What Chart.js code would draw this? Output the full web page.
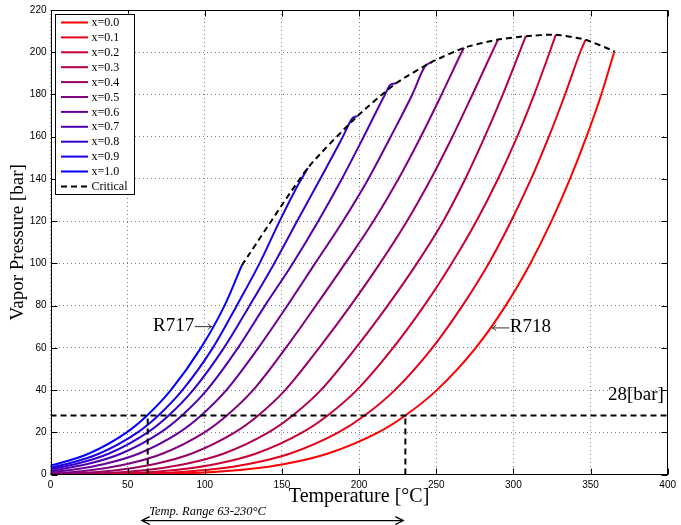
<!DOCTYPE html>
<html lang="en">
<head>
<meta charset="UTF-8">
<title>Vapor Pressure of NH3-H2O mixtures</title>
<script src="https://cdn.jsdelivr.net/npm/chart.js"></script>
<style>
  html, body { margin: 0; padding: 0; background: #fff; }
  #wrap { width: 681px; height: 525px; }
</style>
</head>
<body>
<div id="wrap"><canvas id="chart" width="681" height="525"></canvas></div>
<script>
// ammonia fraction of each curve
const fractions = [0.0, 0.1, 0.2, 0.3, 0.4, 0.5, 0.6, 0.7, 0.8, 0.9, 1.0];
const labels = fractions.map(f => 'x=' + f.toFixed(1));

// temperature [°C] / pressure [bar]
const T_x00 = [0, 50, 70, 86, 106, 127.4, 151.8, 179.9, 212.4, 230, 250.4, 275.6, 295, 311, 324.7, 336.7, 347.4, 357, 365.5];
const P_x00 = [0.006, 0.12, 0.31, 0.6, 1.25, 2.5, 5, 10, 20, 28, 40, 60, 80, 100, 120, 140, 160, 180, 200.5];
const T_x01 = [0, 50.2, 66.4, 85.2, 105.2, 128.4, 155.4, 186.6, 203.6, 223.2, 247.5, 267, 284, 298.5, 311.5, 323, 333.5, 343.3, 346.7];
const P_x01 = [0.02, 0.3, 0.6, 1.25, 2.5, 5, 10, 20, 28, 40, 60, 80, 100, 120, 140, 160, 180, 200, 205.9];
const T_x02 = [0, 33.2, 48.7, 66.4, 85.1, 107.3, 133.3, 163.3, 179.6, 198.5, 222, 242.2, 260, 276, 290, 302.5, 313.5, 323.5, 327.5];
const P_x02 = [0.06, 0.3, 0.6, 1.25, 2.5, 5, 10, 20, 28, 40, 60, 80, 100, 120, 140, 160, 180, 200, 208.3];
const T_x03 = [0, 17, 31.9, 48.6, 66.2, 87.4, 112.4, 141.3, 157, 175.2, 197.9, 218.5, 237.5, 254.5, 268.8, 281.5, 293.2, 304, 308];
const P_x03 = [0.12, 0.3, 0.6, 1.25, 2.5, 5, 10, 20, 28, 40, 60, 80, 100, 120, 140, 160, 180, 200, 207.6];
const T_x04 = [0, 15.3, 31, 47.4, 67.6, 91.6, 119.5, 134.6, 152.1, 174.1, 194.5, 213.5, 231, 246.5, 260.5, 273.5, 286.2, 290];
const P_x04 = [0.29, 0.6, 1.25, 2.5, 5, 10, 20, 28, 40, 60, 80, 100, 120, 140, 160, 180, 200, 206];
const T_x05 = [0, 15, 30.4, 49.7, 72.9, 99.8, 114.3, 131.3, 152.5, 172, 191, 209.3, 225.5, 240, 253.5, 266.5, 268];
const P_x05 = [0.6, 1.25, 2.5, 5, 10, 20, 28, 40, 60, 80, 100, 120, 140, 160, 180, 200, 202.1];
const T_x06 = [0, 16.3, 34.9, 57.4, 83.5, 97.6, 114, 134.7, 153.5, 171.5, 189.5, 206, 220.5, 234.5, 242.8, 247];
const P_x06 = [1.2, 2.5, 5, 10, 20, 28, 40, 60, 80, 100, 120, 140, 160, 180, 193.4, 195.3];
const T_x07 = [0, 6, 24, 45.9, 71.4, 85.2, 101.3, 121.5, 139, 157, 173.5, 188.8, 203, 216.8, 220.3, 224];
const P_x07 = [1.85, 2.5, 5, 10, 20, 28, 40, 60, 80, 100, 120, 140, 160, 180, 184.6, 185.3];
const T_x08 = [0, 16.4, 38, 63, 76.6, 92.4, 112.4, 129, 145, 159.8, 174.8, 189.5, 195.7, 199];
const P_x08 = [2.6, 5, 10, 20, 28, 40, 60, 80, 100, 120, 140, 160, 168.8, 169.8];
const T_x09 = [0, 10.4, 31.7, 56.5, 69.9, 85.5, 105.2, 120.7, 135.5, 148.5, 160.3, 166.8];
const P_x09 = [3.3, 5, 10, 20, 28, 40, 60, 80, 100, 120, 137, 145.2];
const T_x10 = [0, 4, 25, 49.4, 62.6, 78, 97.5, 112.8, 124];
const P_x10 = [4.3, 5, 10, 20, 28, 40, 60, 80, 99.1];

// critical points (end of each curve, x=1.0 -> x=0.0)
const T_crit = [124, 166.8, 199, 224, 247, 268, 290, 308, 327.5, 346.7, 365.5];
const P_crit = [99.1, 145.2, 169.8, 185.3, 195.3, 202.1, 206, 207.6, 208.3, 205.9, 200.5];

// 28 bar working pressure and the temperature range it gives
const refPressure = 28;
const rangeLow = 63;
const rangeHigh = 230;

const xTicks = [0, 50, 100, 150, 200, 250, 300, 350, 400];
const yTicks = [0, 20, 40, 60, 80, 100, 120, 140, 160, 180, 200, 220];

const curvesT = [T_x00, T_x01, T_x02, T_x03, T_x04, T_x05, T_x06, T_x07, T_x08, T_x09, T_x10];
const curvesP = [P_x00, P_x01, P_x02, P_x03, P_x04, P_x05, P_x06, P_x07, P_x08, P_x09, P_x10];

const toXY = (ts, ps) => ts.map((t, i) => ({ x: t, y: ps[i] }));
const mixColor = f => `rgb(${Math.round(255 * (1 - f))}, 0, ${Math.round(255 * f)})`;

const serif = '"Liberation Serif", "Times New Roman", serif';
const sans = '"Liberation Sans", Arial, sans-serif';

const datasets = [];
datasets.push({
    label: 'Critical', kind: 'crit',
    data: toXY(T_crit, P_crit),
    borderColor: '#000', borderWidth: 2, borderDash: [6, 4],
    pointRadius: 0, tension: 0.2, order: 0
});
const refStyle = { borderColor: '#000', borderWidth: 2, borderDash: [6, 4], pointRadius: 0, tension: 0, order: 0, kind: 'ref' };
datasets.push(Object.assign({ label: 'ref', data: [{ x: 0, y: refPressure }, { x: 400, y: refPressure }] }, refStyle));
datasets.push(Object.assign({ label: 'low', data: [{ x: rangeLow, y: 0 }, { x: rangeLow, y: refPressure }] }, refStyle));
datasets.push(Object.assign({ label: 'high', data: [{ x: rangeHigh, y: 0 }, { x: rangeHigh, y: refPressure }] }, refStyle));
fractions.forEach((f, i) => {
    datasets.push({
        label: labels[i], kind: 'curve',
        data: toXY(curvesT[i], curvesP[i]),
        borderColor: mixColor(f), borderWidth: 2,
        pointRadius: 0, cubicInterpolationMode: 'monotone',
        order: 1 + (10 - i)
    });
});

// thin tex-like arrow
function arrow(ctx, xFrom, xTo, yy) {
    const dir = Math.sign(xTo - xFrom);
    ctx.beginPath();
    ctx.moveTo(xFrom, yy); ctx.lineTo(xTo, yy);
    ctx.moveTo(xTo - dir * 4, yy - 3); ctx.quadraticCurveTo(xTo - dir * 1.5, yy - 0.5, xTo, yy);
    ctx.quadraticCurveTo(xTo - dir * 1.5, yy + 0.5, xTo - dir * 4, yy + 3);
    ctx.stroke();
}

// frame, inward ticks, text labels and the legend box (matlab look)
const decorations = {
    id: 'decorations',
    afterDatasetsDraw(chart) {
        const { ctx, chartArea: a, scales: { x, y } } = chart;
        ctx.save();
        const L = Math.round(a.left) + 0.5, R = Math.round(a.right) - 0.5;
        const T = Math.round(a.top) + 0.5, B = Math.round(a.bottom) - 0.5;
        ctx.strokeStyle = '#000';
        ctx.lineWidth = 1;
        ctx.beginPath();
        xTicks.forEach(v => {
            const px = Math.round(x.getPixelForValue(v)) + 0.5;
            ctx.moveTo(px, B); ctx.lineTo(px, B - 6);
            ctx.moveTo(px, T); ctx.lineTo(px, T + 6);
        });
        yTicks.forEach(v => {
            const py = Math.round(y.getPixelForValue(v)) + 0.5;
            ctx.moveTo(L, py); ctx.lineTo(L + 6, py);
            ctx.moveTo(R, py); ctx.lineTo(R - 6, py);
        });
        ctx.stroke();
        ctx.strokeRect(L, T, R - L, B - T);

        // curve annotations
        ctx.fillStyle = '#000';
        ctx.strokeStyle = '#333';
        ctx.lineWidth = 1;
        ctx.font = '19px ' + serif;
        ctx.textBaseline = 'middle';
        const tip717 = x.getPixelForValue(104.5), y717 = y.getPixelForValue(70.3);
        arrow(ctx, tip717 - 17, tip717, y717 + 0.5);
        ctx.textAlign = 'right';
        ctx.fillText('R717', tip717 - 17.5, y717);
        const tip718 = x.getPixelForValue(286.3), y718 = y.getPixelForValue(69.7);
        arrow(ctx, tip718 + 17, tip718, y718 + 0.5);
        ctx.textAlign = 'left';
        ctx.fillText('R718', tip718 + 17.5, y718);
        ctx.textAlign = 'right';
        ctx.fillText('28[bar]', x.getPixelForValue(397.5), y.getPixelForValue(37.6));

        // temperature range arrow under the axis
        const x0 = x.getPixelForValue(rangeLow) - 6, x1 = x.getPixelForValue(rangeHigh) - 2;
        const ay = a.bottom + 46;
        ctx.font = 'italic 12.5px ' + serif;
        ctx.textAlign = 'left';
        ctx.fillText('Temp. Range 63-230\u00B0C', x.getPixelForValue(rangeLow) + 1.5, a.bottom + 37);
        ctx.strokeStyle = '#000';
        ctx.lineWidth = 1.2;
        ctx.beginPath();
        ctx.moveTo(x0, ay); ctx.lineTo(x1, ay);
        ctx.moveTo(x0 + 8, ay - 4); ctx.lineTo(x0, ay); ctx.lineTo(x0 + 8, ay + 4);
        ctx.moveTo(x1 - 8, ay - 4); ctx.lineTo(x1, ay); ctx.lineTo(x1 - 8, ay + 4);
        ctx.stroke();

        // legend box in the top-left corner
        const entries = chart.data.datasets.filter(d => d.kind === 'curve').concat(chart.data.datasets.filter(d => d.kind === 'crit'));
        const bx = a.left + 4.5, by = a.top + 3.5, bw = 79, bh = 180;
        ctx.fillStyle = '#fff';
        ctx.fillRect(bx, by, bw, bh);
        ctx.strokeStyle = '#000';
        ctx.lineWidth = 1;
        ctx.strokeRect(Math.round(bx) + 0.5, Math.round(by) + 0.5, bw, bh);
        ctx.font = '12px ' + serif;
        ctx.textAlign = 'left';
        entries.forEach((d, i) => {
            const ry = by + 9 + i * 14.9;
            ctx.strokeStyle = d.borderColor;
            ctx.lineWidth = 2;
            ctx.setLineDash(d.kind === 'crit' ? [6, 4] : []);
            ctx.beginPath();
            ctx.moveTo(bx + 6, ry); ctx.lineTo(bx + 33, ry);
            ctx.stroke();
            ctx.fillStyle = '#000';
            ctx.fillText(d.label, bx + 36.5, ry + 0.5);
        });
        ctx.restore();
    }
};

new Chart(document.getElementById('chart'), {
    type: 'line',
    data: { datasets: datasets },
    options: {
        responsive: false,
        animation: false,
        events: [],
        layout: { padding: { top: 9.5, right: 10, left: 0, bottom: 0 } },
        plugins: { legend: { display: false }, tooltip: { enabled: false } },
        scales: {
            x: {
                type: 'linear', min: 0, max: 400,
                afterBuildTicks: s => { s.ticks = xTicks.map(v => ({ value: v })); },
                afterFit: s => { s.height = 50.4; },
                ticks: { color: '#000', font: { family: sans, size: 10 }, padding: 5, maxRotation: 0 },
                grid: { color: 'rgba(0,0,0,0.5)', lineWidth: 1, drawTicks: false },
                border: { display: false, dash: [1, 3] },
                title: { display: true, text: 'Temperature [\u00B0C]', color: '#000', font: { family: serif, size: 20 }, padding: { top: 16, bottom: 16 } }
            },
            y: {
                type: 'linear', min: 0, max: 220,
                afterBuildTicks: s => { s.ticks = yTicks.map(v => ({ value: v })); },
                afterFit: s => { s.width = 50.5; },
                ticks: { color: '#000', font: { family: sans, size: 10 }, padding: 4 },
                grid: { color: 'rgba(0,0,0,0.5)', lineWidth: 1, drawTicks: false },
                border: { display: false, dash: [1, 3] },
                title: { display: true, text: 'Vapor Pressure [bar]', color: '#000', font: { family: serif, size: 19 }, padding: { top: 6.6, bottom: 6.6 } }
            }
        }
    },
    plugins: [decorations]
});
</script>
</body>
</html>
